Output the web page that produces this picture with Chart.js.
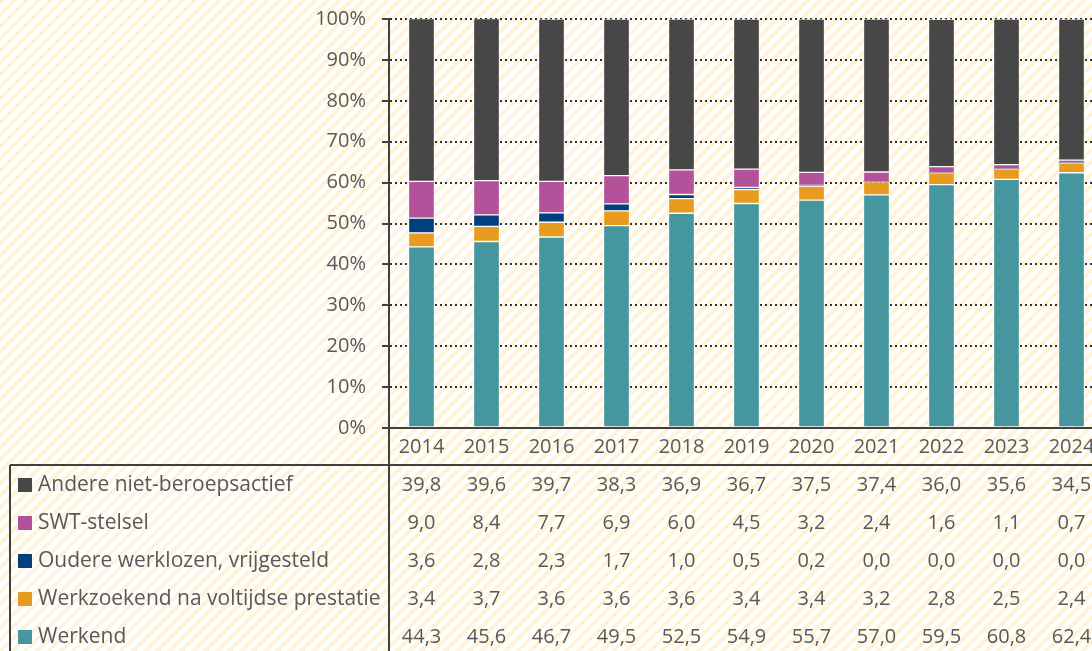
<!DOCTYPE html>
<html>
<head>
<meta charset="utf-8">
<script src="https://cdn.jsdelivr.net/npm/chart.js@4.4.1/dist/chart.umd.min.js"></script>
<style>
html,body{margin:0;padding:0;width:1092px;height:651px;overflow:hidden;
background:#ffffff repeating-linear-gradient(135deg,#fff3d9 0px,#fff3d9 4px,#ffffff 4px,#ffffff 8.5px);}
#wrap{position:absolute;left:0;top:0;width:1104px;height:651px;}
canvas{display:block;}
</style>
</head>
<body>
<div id="wrap"><canvas id="c" width="1104" height="651"></canvas></div>
<script>
// ---- data ----
const years = ['2014','2015','2016','2017','2018','2019','2020','2021','2022','2023','2024'];
const andere      = [39.8,39.6,39.7,38.3,36.9,36.7,37.5,37.4,36.0,35.6,34.5];
const swt         = [9.0,8.4,7.7,6.9,6.0,4.5,3.2,2.4,1.6,1.1,0.7];
const oudere      = [3.6,2.8,2.3,1.7,1.0,0.5,0.2,0.0,0.0,0.0,0.0];
const werkzoekend = [3.4,3.7,3.6,3.6,3.6,3.4,3.4,3.2,2.8,2.5,2.4];
const werkend     = [44.3,45.6,46.7,49.5,52.5,54.9,55.7,57.0,59.5,60.8,62.4];
const seriesNames = ['Andere niet-beroepsactief','SWT-stelsel','Oudere werklozen, vrijgesteld','Werkzoekend na voltijdse prestatie','Werkend'];
const seriesColors = ['#474747','#b3529b','#023f7e','#e89c1f','#4696a0'];
const seriesValues = [andere, swt, oudere, werkzoekend, werkend];
const yTickStep = 10;

const FONT = '"Open Sans", "Liberation Sans", Arial, sans-serif';
const TXT = '#595959';
const LINE = '#404040';

// datasets bottom -> top
const datasets = [];
for (let i = seriesNames.length - 1; i >= 0; i--) {
  datasets.push({
    label: seriesNames[i],
    data: seriesValues[i],
    backgroundColor: seriesColors[i],
    borderColor: 'rgba(255,255,255,0.55)',
    borderWidth: (c) => (c.raw ? 1 : 0),
    borderSkipped: false,
    barThickness: 26
  });
}

const fmt = (v) => v.toFixed(1).replace('.', ',');

const tablePlugin = {
  id: 'dataTable',
  afterDraw(chart) {
    const ctx = chart.ctx;
    const xs = chart.scales.x;
    const area = chart.chartArea;
    const tableTop = xs.bottom;
    const rowH = 38;
    ctx.save();
    ctx.strokeStyle = LINE;
    ctx.lineWidth = 2;
    ctx.beginPath();
    ctx.moveTo(10, tableTop); ctx.lineTo(chart.width, tableTop);
    ctx.moveTo(10, tableTop); ctx.lineTo(10, chart.height);
    ctx.moveTo(area.left, area.bottom); ctx.lineTo(area.left, chart.height);
    ctx.stroke();

    ctx.fillStyle = TXT;
    ctx.textBaseline = 'middle';
    seriesNames.forEach((name, r) => {
      const y = tableTop + rowH / 2 + r * rowH + 1;
      ctx.fillStyle = seriesColors[r];
      ctx.fillRect(18, y - 7, 14, 14);
      ctx.fillStyle = TXT;
      ctx.textAlign = 'left';
      ctx.font = '21px ' + FONT;
      ctx.fillText(name, 38, y);
      ctx.textAlign = 'center';
      ctx.font = '20px ' + FONT;
      seriesValues[r].forEach((v, i) => {
        ctx.fillText(fmt(v), xs.getPixelForValue(i), y);
      });
    });
    ctx.restore();
  }
};

new Chart(document.getElementById('c'), {
  type: 'bar',
  data: { labels: years, datasets },
  options: {
    responsive: false,
    animation: false,
    devicePixelRatio: 1,
    layout: { padding: { top: 19, right: 0, bottom: 186, left: 0 } },
    plugins: { legend: { display: false }, tooltip: { enabled: false } },
    scales: {
      x: {
        stacked: true,
        grid: { display: false, drawTicks: false },
        border: { display: true, color: LINE, width: 2 },
        ticks: { color: TXT, font: { family: FONT, size: 20 }, padding: 7, maxRotation: 0, autoSkip: false },
        afterFit(s) { s.height = 37; }
      },
      y: {
        stacked: true,
        min: 0, max: 100,
        grid: {
          color: '#333333', lineWidth: 2,
          drawTicks: true, tickLength: 7, tickColor: LINE, tickWidth: 2, tickBorderDash: []
        },
        border: { display: true, color: LINE, width: 2, dash: [2, 3] },
        ticks: {
          stepSize: yTickStep, color: TXT, padding: 16,
          font: { family: FONT, size: 20 },
          callback: (v) => v + '%'
        },
        afterFit(s) { s.width = 389; s.paddingTop = 0; s.paddingBottom = 0; }
      }
    }
  },
  plugins: [tablePlugin]
});
</script>
</body>
</html>
